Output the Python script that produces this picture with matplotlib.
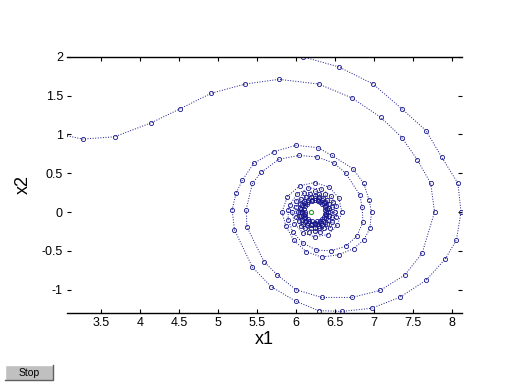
import numpy as np
import matplotlib
matplotlib.use("Agg")
import matplotlib.pyplot as plt
from matplotlib.patches import Rectangle
from matplotlib.lines import Line2D

plt.rcParams['font.family'] = ['Liberation Sans', 'DejaVu Sans']
plt.rcParams['axes.unicode_minus'] = False

# trajectory starting on the left at (3.03, 0.99)
a_x1 = [3.03, 3.26, 3.67, 4.14, 4.51, 4.91, 5.35, 5.78, 6.29, 6.72, 7.09, 7.36, 7.56, 7.73, 7.78,
        7.62, 7.40, 7.08, 6.72, 6.33, 6.00, 5.76, 5.59, 5.37, 5.36,
        5.44, 5.55, 5.78, 6.04, 6.27, 6.49, 6.64, 6.82, 6.85,
        6.86, 6.78, 6.64, 6.45, 6.26, 6.09, 5.96, 5.90, 5.90,
        5.92, 6.01, 6.16, 6.32, 6.45, 6.52, 6.52, 6.44, 6.31, 6.17, 6.06, 6.00,
        6.00, 6.07, 6.18, 6.30, 6.40, 6.46, 6.46, 6.40, 6.30, 6.19, 6.09, 6.04,
        6.05, 6.10, 6.19, 6.29, 6.37, 6.42, 6.42, 6.37, 6.29, 6.19, 6.12, 6.07,
        6.07, 6.12, 6.20, 6.28, 6.36, 6.40, 6.39, 6.35, 6.28, 6.20, 6.13, 6.10,
        6.10, 6.14, 6.20, 6.28, 6.34, 6.37, 6.37, 6.33, 6.27, 6.21, 6.15, 6.12]
a_x2 = [0.99, 0.94, 0.97, 1.15, 1.33, 1.53, 1.65, 1.71, 1.65, 1.47, 1.22, 0.96, 0.67, 0.37, 0.00,
        -0.53, -0.81, -1.01, -1.10, -1.10, -1.00, -0.81, -0.64, -0.19, 0.03,
        0.37, 0.51, 0.68, 0.73, 0.71, 0.63, 0.50, 0.22, 0.06,
        -0.13, -0.31, -0.44, -0.50, -0.49, -0.40, -0.26, -0.10, 0.03,
        0.09, 0.23, 0.31, 0.30, 0.21, 0.08, -0.07, -0.20, -0.26, -0.26, -0.18, -0.07,
        0.06, 0.17, 0.23, 0.23, 0.16, 0.06, -0.06, -0.16, -0.21, -0.20, -0.15, -0.05,
        0.05, 0.14, 0.19, 0.19, 0.13, 0.05, -0.05, -0.13, -0.18, -0.17, -0.13, -0.05,
        0.04, 0.12, 0.16, 0.16, 0.12, 0.04, -0.04, -0.11, -0.15, -0.15, -0.11, -0.04,
        0.04, 0.10, 0.14, 0.14, 0.10, 0.03, -0.03, -0.09, -0.12, -0.12, -0.09, -0.03]

# trajectory starting at the top (6.09, 2.00)
b_x1 = [6.09, 6.55, 6.99, 7.36, 7.67, 7.87, 8.08, 8.12, 8.06, 7.92, 7.67, 7.33, 6.97, 6.59, 6.29,
        6.00, 5.68, 5.44, 5.21, 5.18,
        5.23, 5.31, 5.46, 5.72, 6.00, 6.28, 6.46, 6.73, 6.87, 6.94, 6.97,
        6.95, 6.87, 6.74, 6.55, 6.33, 6.13, 5.97, 5.87, 5.82,
        5.89, 6.05, 6.24, 6.43, 6.55, 6.59, 6.53, 6.41, 6.24, 6.09, 5.98, 5.95,
        6.00, 6.10, 6.24, 6.37, 6.47, 6.50, 6.46, 6.36, 6.24, 6.12, 6.04, 6.02,
        6.05, 6.13, 6.24, 6.35, 6.42, 6.44, 6.41, 6.34, 6.24, 6.14, 6.08, 6.05,
        6.08, 6.15, 6.24, 6.33, 6.39, 6.41, 6.39, 6.32, 6.24, 6.16, 6.10, 6.08,
        6.11, 6.16, 6.24, 6.31, 6.37, 6.38, 6.36, 6.31, 6.24, 6.17, 6.12, 6.11]
b_x2 = [2.00, 1.87, 1.65, 1.33, 1.05, 0.71, 0.37, 0.00, -0.36, -0.60, -0.88, -1.10, -1.24, -1.28, -1.27,
        -1.15, -0.96, -0.71, -0.23, 0.03,
        0.24, 0.41, 0.63, 0.78, 0.86, 0.83, 0.73, 0.56, 0.37, 0.15, 0.00,
        -0.21, -0.36, -0.47, -0.55, -0.58, -0.51, -0.36, -0.18, 0.00,
        0.20, 0.34, 0.38, 0.32, 0.18, 0.00, -0.17, -0.29, -0.32, -0.27, -0.15, 0.00,
        0.14, 0.24, 0.27, 0.23, 0.13, 0.00, -0.13, -0.21, -0.24, -0.20, -0.12, 0.00,
        0.11, 0.19, 0.21, 0.18, 0.10, 0.00, -0.10, -0.17, -0.20, -0.17, -0.10, 0.00,
        0.09, 0.16, 0.18, 0.15, 0.09, 0.00, -0.08, -0.14, -0.16, -0.14, -0.08, 0.00,
        0.08, 0.13, 0.15, 0.13, 0.07, 0.00, -0.07, -0.12, -0.14, -0.12, -0.07, 0.00]

end_x1 = [6.19]
end_x2 = [0.00]

x_ticks = [3.5, 4, 4.5, 5, 5.5, 6, 6.5, 7, 7.5, 8]
y_ticks = [-1, -0.5, 0, 0.5, 1, 1.5, 2]

fig = plt.figure(figsize=(5.12, 3.84), dpi=100)
fig.patch.set_facecolor('white')
ax = fig.add_axes([0.131, 0.185, 0.771, 0.667])

col = '#16168c'
ax.plot(a_x1, a_x2, 'o:', color=col, lw=0.7, ms=3, mfc='none', mew=0.6)
ax.plot(b_x1, b_x2, 'o:', color=col, lw=0.7, ms=3, mfc='none', mew=0.6)
ax.plot(end_x1, end_x2, 'o', color='#2a9a2a', ms=3, mfc='none', mew=0.8)

ax.set_xlim(3.06, 8.13)
ax.set_ylim(-1.3, 2.0)
ax.set_xticks(x_ticks)
ax.set_xticklabels(['3.5', '4', '4.5', '5', '5.5', '6', '6.5', '7', '7.5', '8'])
ax.set_yticks(y_ticks)
ax.set_yticklabels(['-1', '-0.5', '0', '0.5', '1', '1.5', '2'])
ax.tick_params(direction='in', length=3, width=0.8, labelsize=9, top=True, right=True,
               pad=3)
for s in ['left', 'right']:
    ax.spines[s].set_visible(False)
for s in ['top', 'bottom']:
    ax.spines[s].set_linewidth(1.0)
ax.set_xlabel('x1', fontsize=13, labelpad=1)
ax.set_ylabel('x2', fontsize=13, labelpad=7)

# Stop button
x0, y0, w, h = 5 / 512, 1 - 380 / 384, 48 / 512, 15 / 384
fig.patches.append(Rectangle((x0, y0), w, h, transform=fig.transFigure,
                             facecolor='#c0c0c0', edgecolor='none'))
fig.lines.append(Line2D([x0, x0, x0 + w], [y0, y0 + h, y0 + h], transform=fig.transFigure,
                        color='white', lw=1))
fig.lines.append(Line2D([x0, x0 + w, x0 + w], [y0, y0, y0 + h], transform=fig.transFigure,
                        color='#606060', lw=1))
fig.text(x0 + w / 2, y0 + h / 2, 'Stop', ha='center', va='center', fontsize=7.5)

fig.savefig('out.png', dpi=100)
